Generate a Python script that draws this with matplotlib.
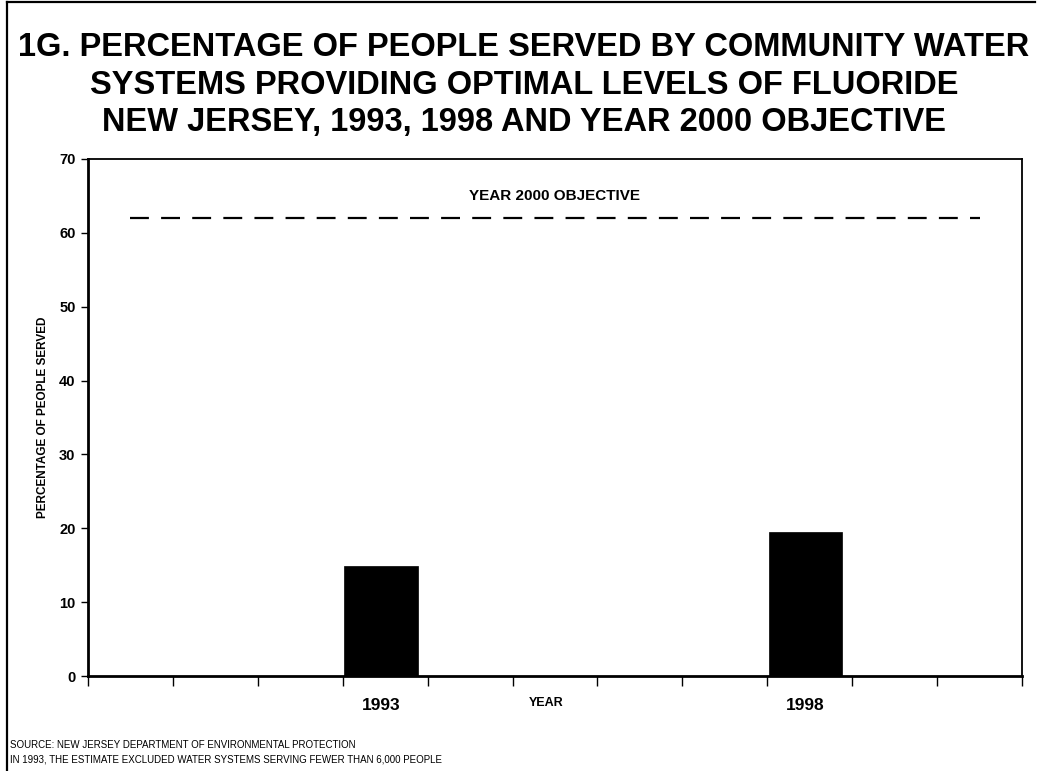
import matplotlib
matplotlib.use("Agg")
import matplotlib.pyplot as plt
from matplotlib.lines import Line2D

plt.rcParams['font.family'] = ['Liberation Sans', 'DejaVu Sans']

# Data
years = [1993, 1998]
percent_served = [14.9, 19.5]
objective_value = 62
objective_span = [1990, 2000]
labeled_years = ["1993", "1998"]
y_ticks = [0, 10, 20, 30, 40, 50, 60, 70]

title = ("1G. PERCENTAGE OF PEOPLE SERVED BY COMMUNITY WATER\n"
         "SYSTEMS PROVIDING OPTIMAL LEVELS OF FLUORIDE\n"
         "NEW JERSEY, 1993, 1998 AND YEAR 2000 OBJECTIVE")
source_lines = [
    "SOURCE: NEW JERSEY DEPARTMENT OF ENVIRONMENTAL PROTECTION",
    "IN 1993, THE ESTIMATE EXCLUDED WATER SYSTEMS SERVING FEWER THAN 6,000 PEOPLE",
]

W, H = 1037, 771
fig = plt.figure(figsize=(W / 100, H / 100), dpi=100)
fig.patch.set_facecolor("white")

# page frame (left and top edges)
fig.add_artist(Line2D([7 / W, 7 / W], [0, 1 - 2 / H], transform=fig.transFigure,
                      color="black", lw=1.6))
fig.add_artist(Line2D([7 / W, 1035 / W], [1 - 2 / H, 1 - 2 / H], transform=fig.transFigure,
                      color="black", lw=1.6))

fig.text(524 / W, 1 - 85 / H, title, ha="center", va="center", fontsize=23.5,
         fontweight="bold", linespacing=1.27)

ax = fig.add_axes([88 / W, 1 - 676 / H, (1022 - 88) / W, (676 - 159) / H])

# bars sit slightly left of the category centre
ax.bar([y - 0.05 for y in years], percent_served, width=0.87, color="black",
       edgecolor="black", linewidth=0.5, zorder=3)

ax.plot(objective_span, [objective_value] * 2, color="black", lw=1.6,
        dashes=(8.5, 5.5), zorder=2)
ax.text(1995, 65, "YEAR 2000 OBJECTIVE", ha="center", va="center",
        fontsize=11, fontweight="bold")

ax.set_xlim(1989.5, 2000.5)
ax.set_ylim(0, 70)

# category boundary tick marks, year labels without marks
ax.set_xticks([1989.5 + i for i in range(12)])
ax.set_xticklabels([])
ax.tick_params(axis="x", direction="out", length=7, width=1.0)
for yr, lab in zip(years, labeled_years):
    ax.text(yr - 0.05, -0.058, lab, transform=ax.get_xaxis_transform(),
            ha="center", va="center", fontsize=12.5, fontweight="bold")
ax.text(1994.9, -0.052, "YEAR", transform=ax.get_xaxis_transform(),
        ha="center", va="center", fontsize=9, fontweight="bold")

ax.set_yticks(y_ticks)
ax.set_yticklabels([str(v) for v in y_ticks], fontsize=10.5, fontweight="bold")
ax.tick_params(axis="y", direction="out", length=5, width=1.0, pad=4)
ax.set_ylabel("PERCENTAGE OF PEOPLE SERVED", fontsize=8.5, fontweight="bold",
              labelpad=7)

for side in ["left", "bottom"]:
    ax.spines[side].set_linewidth(2.0)
for side in ["top", "right"]:
    ax.spines[side].set_linewidth(1.3)

for i, line in enumerate(source_lines):
    fig.text(10 / W, 1 - (745 + 14 * i) / H, line, ha="left", va="center",
             fontsize=7)

fig.savefig("out.png", dpi=100)
